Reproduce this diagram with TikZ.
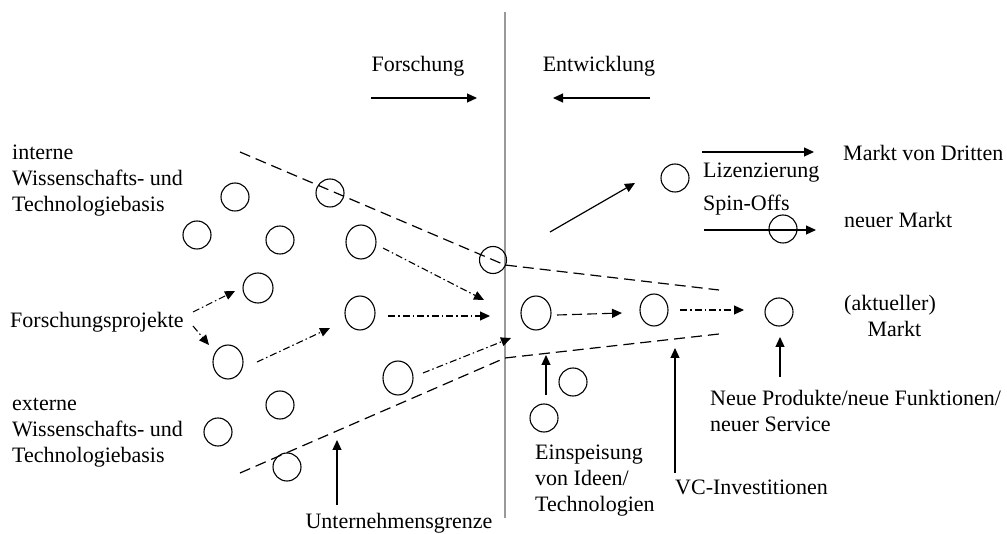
\documentclass[tikz,border=0pt]{standalone}
\usepackage{fontspec}
\setmainfont{Liberation Serif}
\usetikzlibrary{arrows.meta,shapes.geometric}
\begin{document}
\begin{tikzpicture}[x=1pt,y=-1pt,
 font=\fontsize{22}{26}\selectfont,
 txt/.style={inner sep=0pt, align=left},
 circ/.style={draw, circle, line width=1.1pt, minimum size=28pt, inner sep=0pt},
 ell/.style={draw, ellipse, line width=1.1pt, minimum width=30pt, minimum height=34pt, inner sep=0pt},
 tipped/.style={-{Triangle[length=10pt,width=9pt]}},
 sol/.style={tipped, line width=1.2pt},
 dd/.style={tipped, line width=1.1pt, dash pattern=on 7pt off 3pt on 1.5pt off 3pt},
 da/.style={tipped, line width=1.1pt, dash pattern=on 10pt off 5pt},
 bnd/.style={line width=1.2pt, dash pattern=on 11pt off 6pt},
]
\useasboundingbox (0,0) rectangle (1007,534);

% vertical divider
\coordinate (vtop) at (505,12);
\coordinate (vbot) at (505,518);
\draw[line width=1.2pt, black!40] (vtop) -- (vbot);

% headings
\node[txt] (forsch) at (418,66) {Forschung};
\node[txt] (entw) at (599,66) {Entwicklung};
\coordinate (fa1) at (371,98); \coordinate (fa2) at (477,98);
\coordinate (ea1) at (650,98); \coordinate (ea2) at (553,98);
\draw[sol] (fa1) -- (fa2);
\draw[sol] (ea1) -- (ea2);

% left labels
\node[txt, anchor=west] (intern) at (12,181) {interne\\Wissenschafts- und\\Technologiebasis};
\node[txt, anchor=west] (fp) at (10,322) {Forschungsprojekte};
\node[txt, anchor=west] (extern) at (12,433) {externe\\Wissenschafts- und\\Technologiebasis};

% circles
\node[circ] (c1) at (235,197) {};
\node[circ] (c2) at (330,193) {};
\node[circ] (c3) at (197,235) {};
\node[circ] (c4) at (280,240) {};
\node[ell] (c5) at (361,242) {};
\node[circ, minimum width=30pt, minimum height=29pt] (c6) at (258,288) {};
\node[ell] (c7) at (360,313) {};
\node[ell] (c8) at (228,362) {};
\node[ell] (c9) at (398,378) {};
\node[circ] (c10) at (280,405) {};
\node[circ] (c11) at (218,432) {};
\node[circ] (c12) at (287,467) {};
\node[circ, minimum size=27pt] (c13) at (493,260) {};
\node[ell] (c14) at (536,313) {};
\node[ell, minimum width=28pt, minimum height=32pt] (c15) at (654,310) {};
\node[circ] (c16) at (779,312) {};
\node[circ] (c17) at (675,178) {};
\node[circ] (c18) at (783,229) {};
\node[circ] (c19) at (573,382) {};
\node[circ] (c20) at (544,418) {};

% company boundary
\coordinate (ub1) at (240,152); \coordinate (ub2) at (505,265); \coordinate (ub3) at (719,290);
\coordinate (lb1) at (240,473); \coordinate (lb2) at (505,358); \coordinate (lb3) at (719,334);
\draw[bnd] (ub1) -- (ub2) -- (ub3);
\draw[bnd] (lb1) -- (lb2) -- (lb3);

% dash-dot arrows
\coordinate (fpa) at (193,312); \coordinate (fpat) at (235,291);
\coordinate (fpb) at (193,326); \coordinate (fpbt) at (209,345);
\draw[dd] (fpa) -- (fpat);
\draw[dd] (fpb) -- (fpbt);
\coordinate (c8s) at (257,362); \coordinate (c8t) at (330,328);
\draw[dd] (c8s) -- (c8t);
\coordinate (c5s) at (383,248); \coordinate (c5t) at (484,300);
\draw[dd] (c5s) -- (c5t);
\coordinate (c7s) at (388,316); \coordinate (c7t) at (490,316);
\draw[dd] (c7s) -- (c7t);
\coordinate (c9s) at (423,373); \coordinate (c9t) at (511,338);
\draw[dd] (c9s) -- (c9t);
\coordinate (c14s) at (557,315); \coordinate (c14t) at (622,313);
\draw[da] (c14s) -- (c14t);
\coordinate (c15s) at (680,310); \coordinate (c15t) at (744,310);
\draw[dd] (c15s) -- (c15t);

% solid arrows
\coordinate (sp1) at (550,232); \coordinate (sp2) at (635,183);
\draw[sol] (sp1) -- (sp2);
\coordinate (md1) at (702,152); \coordinate (md2) at (814,152);
\draw[sol] (md1) -- (md2);
\coordinate (nm1) at (704,230); \coordinate (nm2) at (816,230);
\draw[sol] (nm1) -- (nm2);

% right labels
\node[txt, anchor=west] (mvd) at (843,153) {Markt von Dritten};
\node[txt, anchor=west] (liz) at (703,173) {Lizenzierung};
\node[txt, anchor=west] (spin) at (703,205) {Spin-Offs};
\node[txt, anchor=west] (nmk) at (844,220) {neuer Markt};
\node[txt, align=center] (akt) at (890,316) {(aktueller)\\\hspace*{0.4em}Markt};
\node[txt, anchor=west] (neue) at (710,411) {Neue Produkte/neue Funktionen/\\neuer Service};
\node[txt, anchor=west] (einsp) at (535,481) {Einspeisung\\von Ideen/\\Technologien};
\node[txt, anchor=west] (vc) at (675,487) {VC-Investitionen};
\node[txt] (ug) at (399,523) {Unternehmensgrenze};

% upward arrows
\coordinate (ea) at (546,395); \coordinate (eat) at (546,355);
\draw[sol] (ea) -- (eat);
\coordinate (va) at (675,473); \coordinate (vat) at (675,348);
\draw[sol] (va) -- (vat);
\coordinate (na) at (780,377); \coordinate (nat) at (780,337);
\draw[sol] (na) -- (nat);
\coordinate (ua) at (337,505); \coordinate (uat) at (337,440);
\draw[sol] (ua) -- (uat);
\end{tikzpicture}
\end{document}
